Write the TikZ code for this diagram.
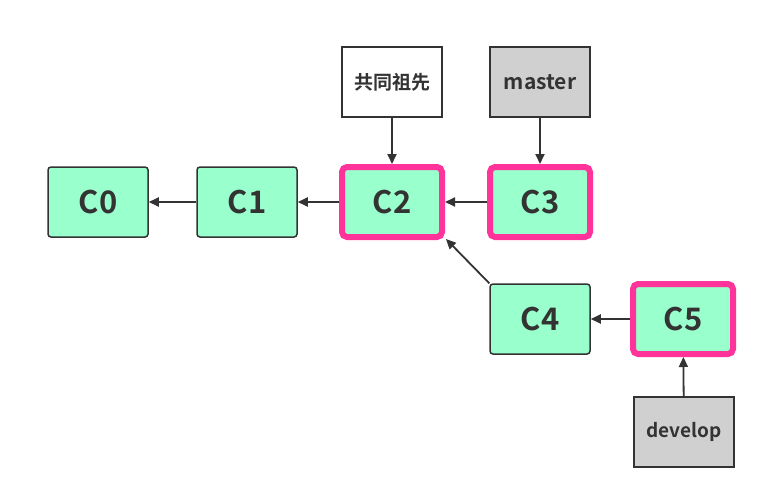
\documentclass[tikz,border=0pt]{standalone}
\usepackage{fontspec}
\setmainfont{Noto Sans CJK SC}[BoldFont={* Bold}]
\usetikzlibrary{arrows.meta}
\definecolor{cgreen}{HTML}{99FFCC}
\definecolor{cpink}{HTML}{FF3399}
\definecolor{cgray}{HTML}{D0D0D0}
\definecolor{cdark}{HTML}{333333}
\begin{document}
\begin{tikzpicture}[x=1pt,y=-1pt,
  commit/.style={draw=cdark,line width=1.5pt,fill=cgreen,rounded corners=3pt,minimum width=100pt,minimum height=70pt,inner sep=0pt,text=cdark,font=\bfseries\fontsize{31}{32}\selectfont},
  hot/.style={commit,draw=cpink,line width=6pt,rounded corners=5pt,minimum width=100pt,minimum height=70pt},
  tag/.style={draw=cdark,line width=1.5pt,minimum width=100pt,minimum height=70pt,inner sep=0pt,text=cdark,font=\bfseries\fontsize{19}{22}\selectfont},
  arr/.style={draw=cdark,line width=1.8pt,-{Triangle[length=10pt,width=9pt]}}]
\useasboundingbox (0,0) rectangle (766,499);
\node[commit] (c0) at (98,202) {C0};
\node[commit] (c1) at (247,202) {C1};
\node[hot] (c2) at (392,202) {C2};
\node[hot] (c3) at (540,202) {C3};
\node[commit] (c4) at (540,319) {C4};
\node[hot] (c5) at (683,319) {C5};
\node[tag,fill=white] (anc) at (392,82) {共同祖先};
\node[tag,fill=cgray,font=\bfseries\fontsize{21}{24}\selectfont] (master) at (540,82) {master};
\node[tag,fill=cgray] (dev) at (684,432) {develop};
\draw[arr] (c1) -- (c0);
\draw[arr] (c2) -- (c1);
\draw[arr] (c3) -- (c2);
\draw[arr] (c5) -- (c4);
\draw[arr] (c4.north west) -- ([xshift=1pt,yshift=1pt]c2.south east);
\draw[arr] (anc) -- (c2);
\draw[arr] (master) -- (c3);
\draw[arr] (dev) -- (c5);
\end{tikzpicture}
\end{document}
